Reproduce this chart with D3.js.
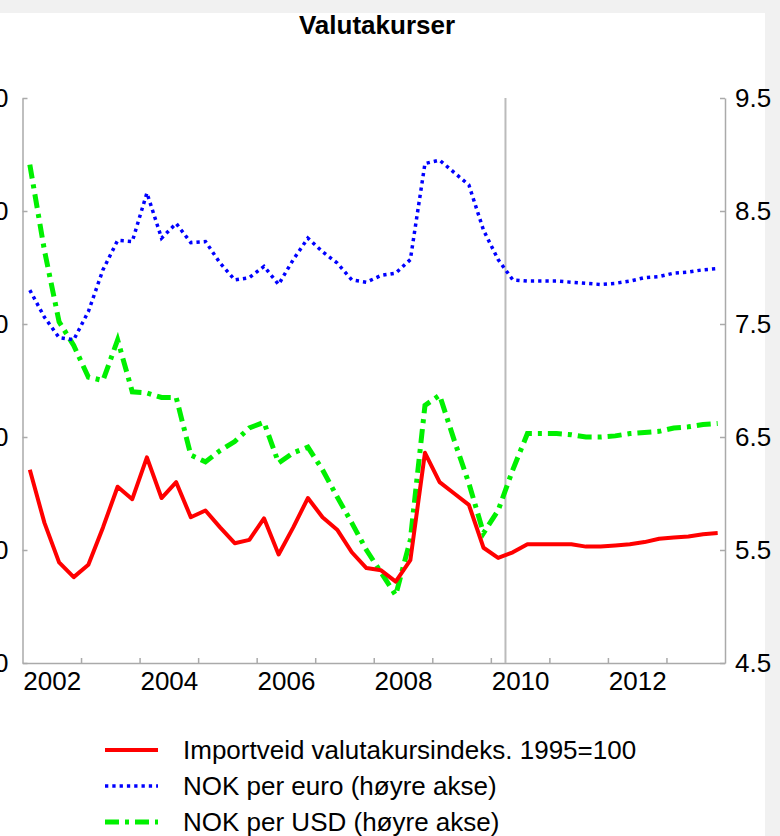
<!DOCTYPE html>
<html lang="no">
<head>
<meta charset="utf-8">
<title>Valutakurser</title>
<style>
  body { margin: 0; background: #f1f1f1; }
  svg { display: block; }
  .axis path, .axis line { fill: none; stroke: #aaaaaa; stroke-width: 1.5; }
  .axis text { font-family: "Liberation Sans", Arial, sans-serif; font-size: 26px; fill: #000; }
  .title { font-family: "Liberation Sans", Arial, sans-serif; font-size: 26px; font-weight: bold; }
  .legend text { font-family: "Liberation Sans", Arial, sans-serif; font-size: 26px; fill: #000; }
</style>
<script src="https://cdn.jsdelivr.net/npm/d3@7"></script>
</head>
<body>
<svg id="chart" width="780" height="836"></svg>
<script>
// quarters 2002K1 .. 2013K4
var years = [2002, 2003, 2004, 2005, 2006, 2007, 2008, 2009, 2010, 2011, 2012, 2013];
var quarters = [];
years.forEach(function(y) { [1, 2, 3, 4].forEach(function(q) { quarters.push({year: y, q: q}); }); });

// Importveid valutakursindeks, 1995=100 (venstre akse)
var importIndex = [97.1, 92.4, 88.9, 87.6, 88.7, 92.0, 95.6, 94.5, 98.2, 94.6, 96.0, 92.9,
                   93.5, 92.0, 90.6, 90.9, 92.8, 89.6, 92.0, 94.6, 92.9, 91.8, 89.8, 88.4,
                   88.2, 87.2, 89.1, 98.6, 96.0, 95.0, 94.0, 90.2, 89.3, 89.8, 90.5, 90.5,
                   90.5, 90.5, 90.3, 90.3, 90.4, 90.5, 90.7, 91.0, 91.1, 91.2, 91.4, 91.5];

// NOK per euro (høyre akse)
var nokEuro = [7.80, 7.56, 7.38, 7.36, 7.61, 7.98, 8.24, 8.23, 8.66, 8.26, 8.39, 8.22,
               8.23, 8.04, 7.89, 7.91, 8.01, 7.85, 8.07, 8.26, 8.14, 8.04, 7.89, 7.87,
               7.93, 7.95, 8.07, 8.92, 8.95, 8.84, 8.73, 8.33, 8.07, 7.89, 7.88, 7.88,
               7.88, 7.87, 7.86, 7.85, 7.86, 7.88, 7.91, 7.92, 7.95, 7.96, 7.98, 7.99];

// NOK per USD (høyre akse)
var nokUsd = [8.91, 8.15, 7.52, 7.31, 7.03, 7.00, 7.36, 6.90, 6.89, 6.85, 6.85, 6.34,
              6.28, 6.38, 6.46, 6.58, 6.63, 6.27, 6.36, 6.41, 6.21, 5.97, 5.74, 5.50,
              5.30, 5.10, 5.59, 6.78, 6.87, 6.47, 6.09, 5.65, 5.85, 6.21, 6.53, 6.53,
              6.53, 6.52, 6.50, 6.50, 6.51, 6.53, 6.54, 6.55, 6.58, 6.59, 6.61, 6.62];

var leftTicks = [80, 90, 100, 110, 120, 130];
var rightTicks = [4.5, 5.5, 6.5, 7.5, 8.5, 9.5];
var yearLabels = [2002, 2004, 2006, 2008, 2010, 2012];
var forecastStart = 2010.25;

var seriesNames = ["Importveid valutakursindeks. 1995=100", "NOK per euro (høyre akse)", "NOK per USD (høyre akse)"];

var plot = {left: 22.5, right: 725, top: 98, bottom: 663};

var svg = d3.select("#chart");

// white page area (gray border top and right)
svg.append("rect").attr("x", 0).attr("y", 13).attr("width", 765).attr("height", 823).attr("fill", "#fff");

var x = d3.scaleLinear().domain([2002, 2014]).range([plot.left, plot.right]);
var yL = d3.scaleLinear().domain([80, 130]).range([plot.bottom, plot.top]);
var yR = d3.scaleLinear().domain([4.5, 9.5]).range([plot.bottom, plot.top]);

function qx(i) { return x(quarters[i].year + (quarters[i].q - 0.5) / 4); }

// title
svg.append("text").attr("class", "title")
    .attr("x", 377).attr("y", 34)
    .attr("text-anchor", "middle")
    .text("Valutakurser");

// left axis (labels run off the left edge, as in the original)
svg.append("g").attr("class", "axis")
    .attr("transform", "translate(" + plot.left + ",0)")
    .call(d3.axisLeft(yL).tickValues(leftTicks).tickSizeInner(-5).tickSizeOuter(0).tickPadding(14).tickFormat(d3.format("d")));

// right axis
svg.append("g").attr("class", "axis")
    .attr("transform", "translate(" + plot.right + ",0)")
    .call(d3.axisRight(yR).tickValues(rightTicks).tickSizeInner(-5).tickSizeOuter(0).tickPadding(10).tickFormat(d3.format(".1f")));

// bottom axis: ticks at year boundaries
svg.append("g").attr("class", "axis")
    .attr("transform", "translate(0," + plot.bottom + ")")
    .call(d3.axisBottom(x).tickValues(years.slice(1)).tickSizeInner(-5).tickSizeOuter(0).tickFormat(""));

// bottom labels centered on the years
var xl = svg.append("g").attr("class", "axis")
    .attr("transform", "translate(0," + plot.bottom + ")")
    .call(d3.axisBottom(x).tickValues(yearLabels.map(function(y) { return y + 0.5; }))
        .tickSize(0).tickPadding(9).tickFormat(function(d) { return String(d - 0.5); }));
xl.select(".domain").remove();

// forecast divider
svg.append("line")
    .attr("x1", x(forecastStart)).attr("x2", x(forecastStart))
    .attr("y1", plot.top).attr("y2", plot.bottom)
    .attr("stroke", "#bbbbbb").attr("stroke-width", 2);

var lineL = d3.line().x(function(d, i) { return qx(i); }).y(function(d) { return yL(d); });
var lineR = d3.line().x(function(d, i) { return qx(i); }).y(function(d) { return yR(d); });

var styles = [
  {color: "#ff0000", width: 4, dash: null},
  {color: "#0000ff", width: 3.5, dash: "3.3,4"},
  {color: "#00f000", width: 5, dash: "14,6,4,6"}
];

svg.append("path").datum(nokUsd).attr("d", lineR)
    .attr("fill", "none").attr("stroke", styles[2].color).attr("stroke-width", styles[2].width)
    .attr("stroke-dasharray", styles[2].dash);

svg.append("path").datum(nokEuro).attr("d", lineR)
    .attr("fill", "none").attr("stroke", styles[1].color).attr("stroke-width", styles[1].width)
    .attr("stroke-dasharray", styles[1].dash);

svg.append("path").datum(importIndex).attr("d", lineL)
    .attr("fill", "none").attr("stroke", styles[0].color).attr("stroke-width", styles[0].width)
    .attr("stroke-linejoin", "round");

// legend
var legend = svg.append("g").attr("class", "legend");
seriesNames.forEach(function(name, i) {
  var ly = 750 + i * 36;
  legend.append("line")
      .attr("x1", 105).attr("x2", 158).attr("y1", ly).attr("y2", ly)
      .attr("stroke", styles[i].color).attr("stroke-width", styles[i].width)
      .attr("stroke-dasharray", styles[i].dash);
  legend.append("text")
      .attr("x", 183).attr("y", ly + 9)
      .text(name);
});
</script>
</body>
</html>
